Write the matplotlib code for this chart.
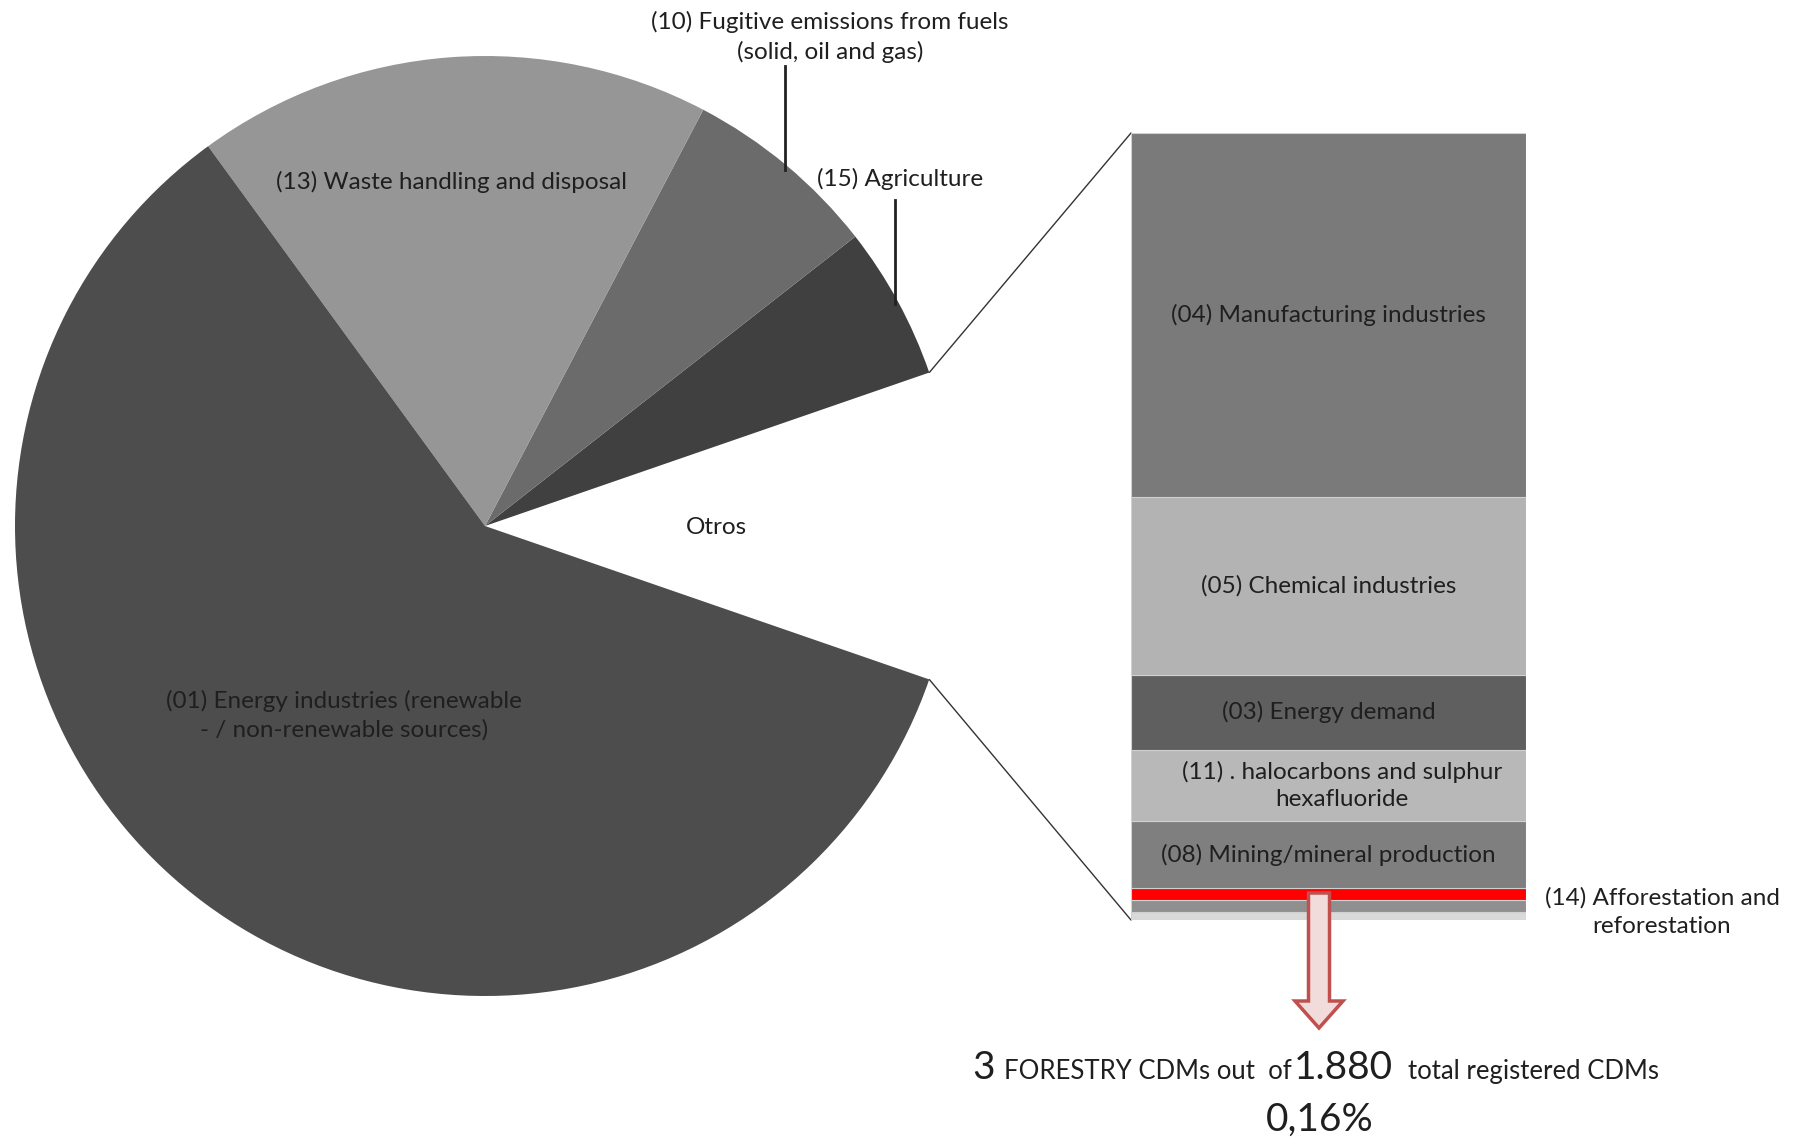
import numpy as np
import matplotlib.pyplot as plt
import matplotlib.patches as mpatches
from matplotlib.patches import ConnectionPatch

plt.rcParams['font.family'] = ['Lato', 'DejaVu Sans']

# registered CDM projects by sectoral scope (total 1.880)
pie_labels = ['Otros', '(15) Agriculture', '(10) Fugitive emissions from fuels\n(solid, oil and gas)',
              '(13) Waste handling and disposal',
              '(01) Energy industries (renewable\n- / non-renewable sources)']
pie_values = [199, 99, 127, 333, 1122]
pie_colors = ['white', '#404040', '#6b6b6b', '#969696', '#4d4d4d']

# breakdown of "Otros", bottom to top
bar_labels = ['', '', '(14) Afforestation and\nreforestation', '(08) Mining/mineral production',
              '(11) . halocarbons and sulphur\nhexafluoride', '(03) Energy demand',
              '(05) Chemical industries', '(04) Manufacturing industries']
bar_values = [2, 3, 3, 17, 18, 19, 45, 92]
bar_colors = ['#d9d9d9', '#8f8f8f', '#ff0000', '#7f7f7f', '#b8b8b8', '#5f5f5f', '#b3b3b3', '#7a7a7a']

W, H = 1797, 1147
fig = plt.figure(figsize=(W / 100, H / 100), dpi=100)
ax = fig.add_axes([0, 0, 1, 1])
ax.set_zorder(2)
ax.patch.set_visible(False)

txt = '#1f1f1f'
fs = 17.5

# pie, "Otros" centred on the right
cx, cy, R = 485, H - 526, 470
start = -360 * pie_values[0] / sum(pie_values) / 2
wedges, _ = ax.pie(pie_values, colors=pie_colors, startangle=start, counterclock=True,
                   center=(cx, cy), radius=R, frame=True)
ax.set_xlim(0, W)
ax.set_ylim(0, H)
ax.set_aspect('equal')
ax.axis('off')

ax.text(716, H - 528, 'Otros', ha='center', va='center', fontsize=fs, color=txt)
ax.text(452, H - 182, pie_labels[3], ha='center', va='center', fontsize=fs, color=txt)
ax.text(344, H - 715, pie_labels[4], ha='center', va='center', fontsize=fs, color=txt,
        linespacing=1.4)
ax.text(830, H - 37, pie_labels[2], ha='center', va='center', fontsize=fs, color=txt,
        linespacing=1.4)
ax.text(900, H - 179, pie_labels[1], ha='center', va='center', fontsize=fs, color=txt)
ax.plot([785, 785], [H - 66, H - 170], color='#222222', lw=2)
ax.plot([895, 895], [H - 200, H - 304], color='#222222', lw=2)

# stacked bar for the "Otros" slice
bx0, bx1, by0, by1 = 1131, 1526, 133, 920
bax = fig.add_axes([bx0 / W, (H - by1) / H, (bx1 - bx0) / W, (by1 - by0) / H])
bax.set_zorder(1)
bottom = 0
for lab, v, c in zip(bar_labels, bar_values, bar_colors):
    bax.bar(0, v, bottom=bottom, width=1, color=c, edgecolor='#d0d0d0', linewidth=0.8)
    if lab and v > 5:
        dx = 0.035 if lab.startswith('(11)') else 0
        bax.text(dx, bottom + v / 2, lab, ha='center', va='center', fontsize=fs,
                 color=txt, linespacing=1.35)
    bottom += v
bax.set_xlim(-0.5, 0.5)
bax.set_ylim(0, sum(bar_values))
bax.axis('off')

ax.text(1662, H - 912, bar_labels[2], ha='center', va='center', fontsize=fs, color=txt,
        linespacing=1.4)

# connector lines from the "Otros" slice edges to the bar
otros = wedges[0]
for ang, yb in [(otros.theta2, 1), (otros.theta1, 0)]:
    px = cx + R * np.cos(np.radians(ang))
    py = cy + R * np.sin(np.radians(ang))
    con = ConnectionPatch(xyA=(px, py), coordsA=ax.transData, xyB=(0, yb),
                          coordsB=bax.transAxes, color='#333333', lw=1)
    fig.add_artist(con)

# arrow down from the forestry band
arrow = mpatches.FancyArrow(1319, H - 893, 0, -135, width=21, head_width=48, head_length=27,
                            length_includes_head=True, facecolor='#f2dcdb',
                            edgecolor='#c0504d', lw=2.5, zorder=5)
ax.add_patch(arrow)

yb = H - 1079
ax.text(972, yb, '3', ha='left', va='baseline', fontsize=28, color=txt)
ax.text(1004, yb, 'FORESTRY CDMs out  of', ha='left', va='baseline', fontsize=18.5, color=txt)
ax.text(1294, yb, '1.880', ha='left', va='baseline', fontsize=28, color=txt)
ax.text(1408, yb, 'total registered CDMs', ha='left', va='baseline', fontsize=18.5, color=txt)
ax.text(1320, H - 1120, '0,16%', ha='center', va='center', fontsize=28, color=txt)

fig.savefig('out.png', dpi=100)
